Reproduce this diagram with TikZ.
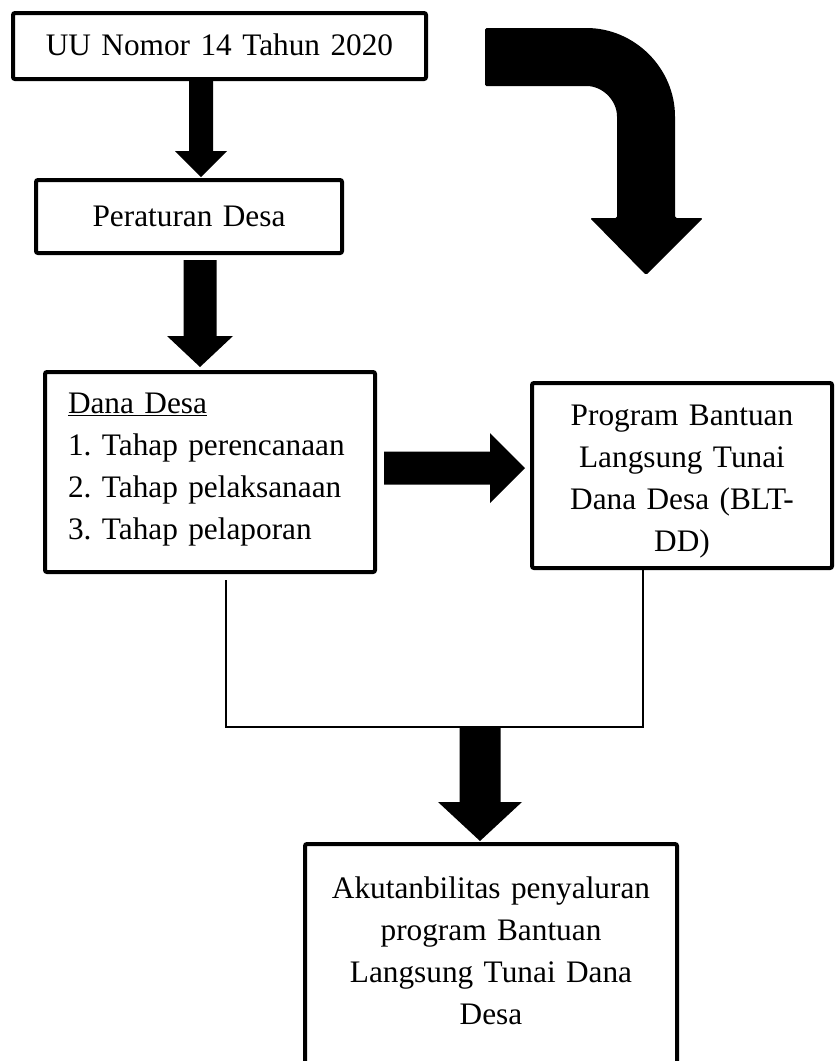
\documentclass[tikz,border=0pt]{standalone}
\usepackage{fontspec}
\setmainfont{Liberation Serif}
\usetikzlibrary{calc}

\tikzset{
  box/.style={draw, line width=4pt, rounded corners=2pt, inner sep=0pt, outer sep=0pt,
    align=center, anchor=north west, font=\fontsize{31.3}{42.3}\selectfont\frenchspacing},
  link/.style={line width=1.5pt},
}

% fat arrow: from, to, half shaft, half head, head length
\newcommand{\blockarrow}[5]{%
  \coordinate (ah) at ($(#2)!#5!(#1)$);
  \fill ($(#1)!#3!90:(#2)$) -- ($(ah)!#3!90:(#2)$) -- ($(ah)!#4!90:(#2)$) -- (#2)
    -- ($(ah)!#4!-90:(#2)$) -- ($(ah)!#3!-90:(#2)$) -- ($(#1)!#3!-90:(#2)$) -- cycle;
}

\begin{document}
\begin{tikzpicture}[x=1pt, y=-1pt]
    \useasboundingbox (0,0) rectangle (836,1061);
    \clip (0,0) rectangle (836,1061);

    % Boxes
    \node[box, text width=413pt, text height=42pt, text depth=24pt] (uu) at (13,13) {UU Nomor 14 Tahun 2020};
    \node[box, text width=306pt, text height=46pt, text depth=27pt] (per) at (36,180) {Peraturan Desa};
    \node[box, align=left, inner xsep=23pt, text width=284pt, text height=41pt, text depth=159pt] (dana) at (45,372)
        {\underline{Dana Desa}\\1. Tahap perencanaan\\2. Tahap pelaksanaan\\3. Tahap pelaporan};
    \node[box, text width=300pt, text height=42pt, text depth=143pt] (blt) at (532,383)
        {Program Bantuan\\Langsung Tunai\\Dana Desa (BLT-\\DD)};
    \node[box, text width=372pt, text height=54pt, text depth=240pt] (bot) at (305,844)
        {Akutanbilitas penyaluran\\program Bantuan\\Langsung Tunai Dana\\Desa};

    % Arrows between boxes
    \coordinate (a1s) at ([xshift=-18.5pt]uu.south);
    \coordinate (a1e) at ($(a1s |- per.north)+(0,-3)$);
    \blockarrow{a1s}{a1e}{12pt}{26pt}{26pt}

    \coordinate (a2s) at ([xshift=11pt, yshift=-7pt]per.south);
    \coordinate (a2e) at ($(a2s |- dana.north)+(0,-5)$);
    \blockarrow{a2s}{a2e}{16.5pt}{33pt}{31pt}

    \coordinate (a3s) at ([xshift=9pt, yshift=4pt]dana.east);
    \coordinate (a3e) at ($(a3s -| blt.west)+(-7,0)$);
    \blockarrow{a3s}{a3e}{16.5pt}{35pt}{35pt}

    % Joining lines
    \coordinate (join) at (480,727);
    \draw[link] ([xshift=16pt, yshift=-8pt]dana.south) |- (join) -| ([xshift=-39pt, yshift=-2pt]blt.south);
    \coordinate (a4e) at ($(join |- bot.north)+(0,-3)$);
    \blockarrow{join}{a4e}{20.5pt}{42pt}{39pt}

    % Bent arrow
    \fill[rounded corners=1.5pt] (485,28) -- (585,28) arc[start angle=90, end angle=0, radius=90pt]
        -- (675,218) -- (703,218) -- (646,275) -- (590,218) -- (617,218) -- (617,118)
        arc[start angle=0, end angle=90, radius=32pt] -- (485,86) -- cycle;
\end{tikzpicture}
\end{document}
